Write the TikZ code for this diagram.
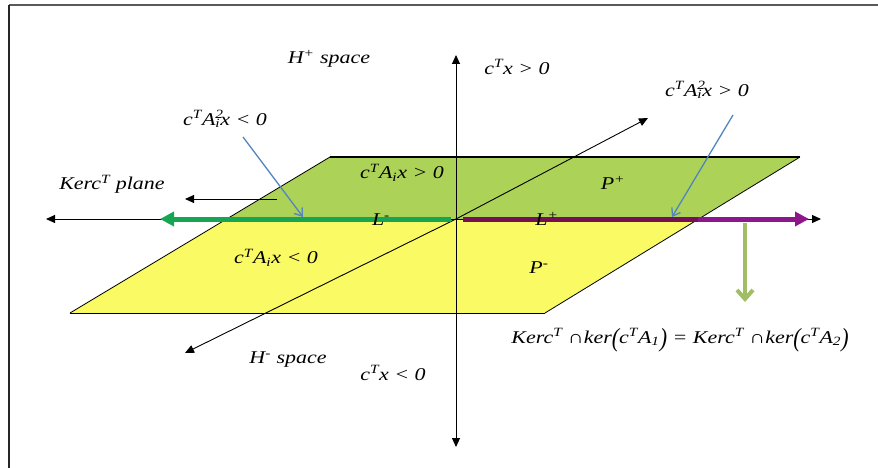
\documentclass[tikz,border=0pt]{standalone}
\usepackage{fontspec}
\usepackage{graphicx}
\setmainfont{Liberation Serif}
\usetikzlibrary{arrows.meta}
\definecolor{topgreen}{RGB}{172,210,88}
\definecolor{ylw}{RGB}{250,250,100}
\definecolor{lgreen}{RGB}{22,165,82}
\definecolor{purp}{RGB}{142,22,140}
\definecolor{darkpurp}{RGB}{118,16,84}
\definecolor{pblue}{RGB}{82,132,190}
\definecolor{olivegr}{RGB}{160,190,100}
\definecolor{framegray}{RGB}{90,90,90}
\newcommand{\sps}[1]{\textsuperscript{#1}}
\newcommand{\supsub}[2]{\rlap{\textsuperscript{#1}}\textsubscript{#2}}
\newcommand{\bigpar}[1]{\raisebox{-0.18em}{\scalebox{1}[1.45]{#1}}}
\begin{document}
\begin{tikzpicture}[x=1pt,y=-1pt,
  lbl/.style={font=\fontsize{18}{21}\selectfont\itshape, inner sep=0pt, xscale=1.22},
  axisline/.style={draw=black, line width=0.9pt, -{Triangle[length=9pt,width=8pt]}},
  edge/.style={draw=black, line width=0.8pt},
  pointer/.style={draw=pblue, line width=1.3pt, -{Straight Barb[length=7pt,width=10pt]}},
  thickgreen/.style={draw=lgreen, line width=5pt, -{Triangle[length=14pt,width=14pt]}},
  thickpurp/.style={draw=purp, line width=5pt, -{Triangle[length=14pt,width=14pt]}}]
\useasboundingbox (0,0) rectangle (878,468);
% frame
\draw[framegray, line width=2pt] (9,5) -- (878,5);
\draw[black!85, line width=2pt] (9,5) -- (9,468);
% plane corners
\coordinate (TL) at (330,157);
\coordinate (TR) at (800,157);
\coordinate (BR) at (545,313);
\coordinate (BL) at (70,313);
\coordinate (ML) at (227,219);
\coordinate (MR) at (698,219);
\fill[topgreen] (TL) -- (TR) -- (MR) -- (ML) -- cycle;
\fill[ylw] (ML) -- (MR) -- (BR) -- (BL) -- cycle;
\draw[edge] (BL) -- (TL);
\draw[edge] (BR) -- (TR);
\draw[edge] (BL) -- (BR);
\draw[black, line width=2.5pt] (TL) -- (TR);
% axes
\coordinate (vt) at (456,55);
\coordinate (vb) at (456,447);
\coordinate (hl) at (46,219);
\coordinate (hr) at (821,219);
\coordinate (dl) at (185,353);
\coordinate (dr) at (648,118);
\coordinate (O) at (456,219);
\draw[axisline] (O) -- (vt);
\draw[axisline] (O) -- (vb);
\draw[axisline] (O) -- (hl);
\draw[axisline] (O) -- (hr);
\draw[axisline] (O) -- (dl);
\draw[axisline] (O) -- (dr);
% thick arrows
\coordinate (gs) at (451,219);
\coordinate (ge) at (160,219);
\coordinate (ps) at (463,219);
\coordinate (pe) at (809,219);
\coordinate (pm) at (698,219);
\draw[thickgreen] (gs) -- (ge);
\draw[thickpurp] (ps) -- (pe);
\draw[draw=darkpurp, line width=5pt] (ps) -- (pm);
% Kerc plane pointer
\coordinate (ks) at (277,199);
\coordinate (ke) at (185,199);
\draw[axisline] (ks) -- (ke);
% labels
\node[lbl] (hplus) at (329,59) {H\sps{+} space};
\node[lbl] (cxpos) at (517,67) {c\sps{T}x {>} 0};
\node[lbl] (ca2pos) at (707,90) {c\sps{T}A\supsub{2}{i}x {>} 0};
\node[lbl] (ca2neg) at (225,119) {c\sps{T}A\supsub{2}{i}x {<} 0};
\node[lbl] (caipos) at (402,173) {c\sps{T}A\textsubscript{i}x {>} 0};
\node[lbl] (pplus) at (613,183) {P\sps{+}};
\node[lbl] (lminus) at (381,220) {L\sps{-}};
\node[lbl] (lplus) at (547,219) {L\sps{+}};
\node[lbl] (kplane) at (112,184) {Kerc\sps{T} plane};
\node[lbl] (caineg) at (276,258) {c\sps{T}A\textsubscript{i}x {<} 0};
\node[lbl] (pminus) at (539,268) {P\sps{-}};
\node[lbl] (hminus) at (288,360) {H\sps{-} space};
\node[lbl] (cxneg) at (393,373) {c\sps{T}x {<} 0};
\node[lbl] (eqn) at (680,340) {Kerc\sps{T} ∩ker\bigpar{(}c\sps{T}A\textsubscript{1}\bigpar{)} = Kerc\sps{T} ∩ker\bigpar{(}c\sps{T}A\textsubscript{2}\bigpar{)}};
% pointers
\coordinate (b1s) at (243,137);
\coordinate (b1e) at (303,217);
\coordinate (b2s) at (733,115);
\coordinate (b2e) at (672,217);
\draw[pointer] (b1s) -- (b1e);
\draw[pointer] (b2s) -- (b2e);
\coordinate (os) at (745,223);
\coordinate (oe) at (745,302);
\draw[draw=olivegr, line width=4pt, -{Straight Barb[length=9pt,width=16pt]}] (os) -- (oe);
\end{tikzpicture}
\end{document}
